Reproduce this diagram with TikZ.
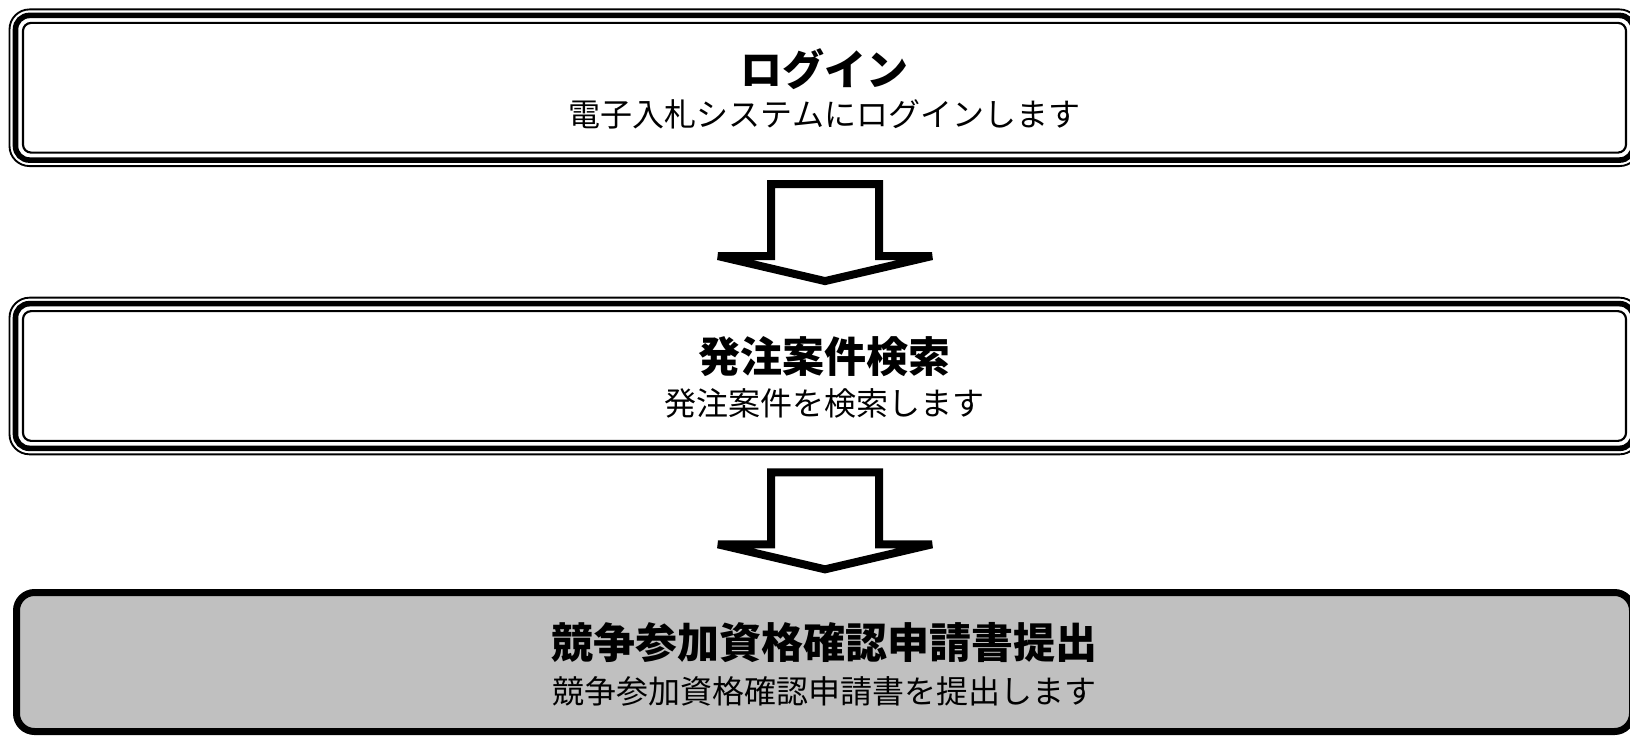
\documentclass[tikz,border=0pt]{standalone}
\usepackage{fontspec}
\setmainfont{Noto Sans CJK JP}
\usepackage{tikz}
\usetikzlibrary{calc,positioning}

\definecolor{stepgray}{HTML}{C0C0C0}
\tikzset{
  flowbox/.style={draw, line width=4.2pt, rounded corners=10.5pt, outer sep=0pt,
    inner sep=0pt, minimum width=1213.5pt, minimum height=108.5pt},
  thinline/.style={draw, line width=1.4pt},
  titletext/.style={inner sep=0pt, font=\bfseries\fontsize{31.5}{34}\selectfont},
  subtext/.style={inner sep=0pt, font=\fontsize{24}{28}\selectfont},
  blockarrow/.style={draw, line width=6pt, fill=white, miter limit=2}
}
\newcommand{\flowarrow}[1]{%
  \draw[blockarrow] (#1) ++(-54,0) -- ++(108,0) -- ++(0,72) -- ++(53,0)
    -- ++(-107,25) -- ++(-107,-25) -- ++(53,0) -- cycle;}

\begin{document}
\begin{tikzpicture}[x=0.75pt,y=-0.75pt]
  \useasboundingbox (0,0) rectangle (1630,735);
  % ステップ枠
  \node[flowbox] (login) at (824.5,87.75) {};
  \node[flowbox] (search) at (824.5,376) {};
  \node[flowbox, fill=stepgray, line width=5.25pt, rounded corners=13.5pt,
    minimum width=1212pt, minimum height=104.25pt] (apply) at (824.5,662) {};
  % 外側と内側の細線
  \foreach \b in {login,search}{
    \draw[thinline, rounded corners=15pt] ($(\b.north west)+(-6,-6)$) rectangle ($(\b.south east)+(6,6)$);
    \draw[thinline, line width=1.6pt, rounded corners=6pt] ($(\b.north west)+(7.5,7.5)$) rectangle ($(\b.south east)+(-7.5,-7.5)$);
  }
  % 見出しと説明
  \node[titletext] (logintitle) at ($(login.center)+(0,-19)$) {ログイン};
  \node[subtext] (loginsub) at ($(login.center)+(0,27)$) {電子入札システムにログインします};
  \node[titletext] (searchtitle) at ($(search.center)+(0,-19)$) {発注案件検索};
  \node[subtext] (searchsub) at ($(search.center)+(0,27)$) {発注案件を検索します};
  \node[titletext] (applytitle) at ($(apply.center)+(0,-19)$) {競争参加資格確認申請書提出};
  \node[subtext] (applysub) at ($(apply.center)+(0,29)$) {競争参加資格確認申請書を提出します};
  % 矢印
  \coordinate (arrowA) at ($(login.south)+(0.5,24)$);
  \coordinate (arrowB) at ($(search.south)+(0.5,24)$);
  \flowarrow{arrowA}
  \flowarrow{arrowB}
\end{tikzpicture}
\end{document}
